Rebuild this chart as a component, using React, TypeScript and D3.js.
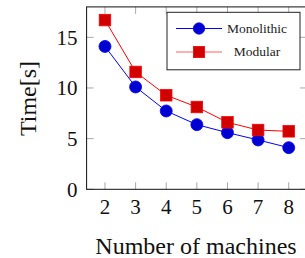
import React from "react";
import * as d3 from "d3";

const machines = [2, 3, 4, 5, 6, 7, 8];
const monolithic = [14.1, 10.1, 7.73, 6.38, 5.59, 4.87, 4.11];
const modular = [16.7, 11.58, 9.28, 8.12, 6.61, 5.85, 5.72];
const yTicks = [0, 5, 10, 15];
const seriesNames = ["Monolithic", "Modular"];

const FONT = '"Liberation Serif", "DejaVu Serif", serif';

export default function App() {
  const W = 305, H = 258;
  const x = d3.scaleLinear().domain([1.4, 8.6]).range([86.6, 307.1]);
  const y = d3.scaleLinear().domain([0, 18]).range([189.3, 6.9]);
  const [x0, x1] = x.range();
  const [yb, yt] = y.range();
  const line = d3
    .line<[number, number]>()
    .x((d) => x(d[0]))
    .y((d) => y(d[1]));
  const monoPts: [number, number][] = machines.map((m, i) => [m, monolithic[i]]);
  const modPts: [number, number][] = machines.map((m, i) => [m, modular[i]]);
  const tickLen = 7;
  const tickColor = "#a8a8a8";
  const blueStroke = "#0000ff";
  const blueFill = "#0000d0";
  const redStroke = "#ff0000";
  const redFill = "#d00000";
  const r = 6;
  const s = 11.5;

  const lg = { x: 167, y: 12.3, w: 133, h: 57.5 };

  return (
    <svg
      width={W}
      height={H}
      style={{ position: "absolute", left: 0, top: 0, background: "#fff", fontFamily: FONT }}
    >
      <rect x={0} y={0} width={W} height={H} fill="#fff" />
      {machines.map((m) => (
        <g key={"xt" + m}>
          <line x1={x(m)} x2={x(m)} y1={yb} y2={yb - tickLen} stroke={tickColor} strokeWidth={1} />
          <line x1={x(m)} x2={x(m)} y1={yt} y2={yt + tickLen} stroke={tickColor} strokeWidth={1} />
          <text x={x(m)} y={213.5} fontSize={21} textAnchor="middle" fill="#111">
            {m}
          </text>
        </g>
      ))}
      {yTicks.map((v) => (
        <g key={"yt" + v}>
          <line x1={x0} x2={x0 + tickLen} y1={y(v)} y2={y(v)} stroke={tickColor} strokeWidth={1} />
          <line x1={x1} x2={x1 - tickLen} y1={y(v)} y2={y(v)} stroke={tickColor} strokeWidth={1} />
          <text x={77.5} y={y(v) + 7.2} fontSize={21} textAnchor="end" fill="#111">
            {v}
          </text>
        </g>
      ))}
      <rect x={x0} y={yt} width={x1 - x0} height={yb - yt} fill="none" stroke="#111" strokeWidth={1} />
      <path d={line(monoPts) || ""} fill="none" stroke={blueStroke} strokeWidth={1} />
      <path d={line(modPts) || ""} fill="none" stroke={redStroke} strokeWidth={1} />
      {monoPts.map((p, i) => (
        <circle key={"c" + i} cx={x(p[0])} cy={y(p[1])} r={r} fill={blueFill} stroke={blueStroke} strokeWidth={0.8} />
      ))}
      {modPts.map((p, i) => (
        <rect
          key={"s" + i}
          x={x(p[0]) - s / 2}
          y={y(p[1]) - s / 2}
          width={s}
          height={s}
          fill={redFill}
          stroke={redStroke}
          strokeWidth={0.8}
        />
      ))}
      <rect x={lg.x} y={lg.y} width={lg.w} height={lg.h} fill="#fff" stroke="#222" strokeWidth={1} />
      <line x1={176} x2={222} y1={28.5} y2={28.5} stroke={blueStroke} strokeWidth={1} />
      <circle cx={199} cy={28.5} r={5.7} fill={blueFill} stroke={blueStroke} strokeWidth={0.8} />
      <text x={257} y={32.5} fontSize={13.5} textAnchor="middle" fill="#222">
        {seriesNames[0]}
      </text>
      <line x1={176} x2={222} y1={52} y2={52} stroke="#ff6060" strokeWidth={1} />
      <rect x={199 - 5.6} y={52 - 5.6} width={11.2} height={11.2} fill={redFill} stroke={redStroke} strokeWidth={0.8} />
      <text x={257} y={56} fontSize={13.5} textAnchor="middle" fill="#222">
        {seriesNames[1]}
      </text>
      <text x={196} y={254} fontSize={24} textAnchor="middle" fill="#111">
        Number of machines
      </text>
      <text transform={`translate(36,98.5) rotate(-90)`} fontSize={24} textAnchor="middle" fill="#111">
        Time[s]
      </text>
    </svg>
  );
}
